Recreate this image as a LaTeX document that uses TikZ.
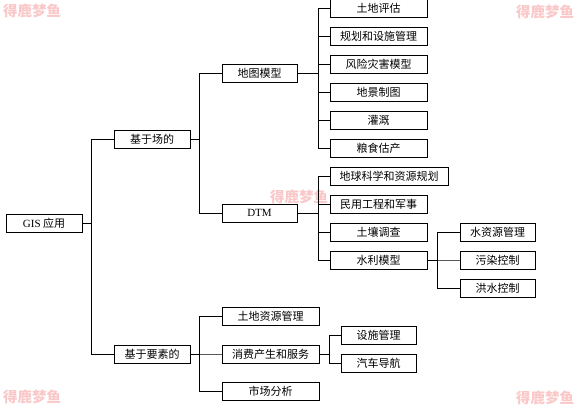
\documentclass[tikz,border=0pt]{standalone}
\usepackage{fontspec}
\setmainfont{Liberation Serif}
\newfontfamily\cjk{Noto Sans CJK SC}
\usetikzlibrary{positioning}
\definecolor{wmark}{RGB}{250,200,200}

\begin{document}
\begin{tikzpicture}[x=1pt,y=-1pt,
  box/.style={draw,line width=1pt,minimum height=18pt,inner sep=0pt,font=\cjk\fontsize{11}{12}\selectfont},
  wm/.style={text=wmark,font=\cjk\bfseries\fontsize{14.5}{16}\selectfont,inner sep=0pt}]
\useasboundingbox (0,0) rectangle (575,412);

% watermarks
\foreach \pos/\name in {(32,11)/wma, (545,12)/wmb, (299,197)/wmc, (32,397)/wmd, (545,398)/wme}
\node[wm] (\name) at \pos {得鹿梦鱼};

% boxes
\foreach \pos/\name/\w/\disp in {{(44,223)/gis/76/{\rmfamily GIS} 应用},
  {(152,139)/field/76/基于场的}, {(152,354)/feat/76/基于要素的},
  {(259.5,73)/map/75/地图模型}, {(259.5,213)/dtm/75/{\rmfamily DTM}},
  {(270.5,316)/landres/97/土地资源管理}, {(270.5,354)/consume/97/消费产生和服务}, {(270.5,391)/market/97/市场分析},
  {(378.5,8.5)/landval/97/土地评估}, {(378.5,36.5)/plan/97/规划和设施管理}, {(378.5,64.5)/risk/97/风险灾害模型},
  {(378.5,92.5)/scene/97/地景制图}, {(378.5,120.5)/irrig/97/灌溉}, {(378.5,148.5)/crop/97/粮食估产},
  {(389,176.5)/geo/118/地球科学和资源规划}, {(378.5,204.5)/civil/97/民用工程和军事},
  {(378.5,232)/soil/97/土壤调查}, {(378.5,260)/hydro/97/水利模型},
  {(497.5,232)/water/75/水资源管理}, {(497.5,260)/pollut/75/污染控制}, {(497.5,288)/flood/75/洪水控制},
  {(378.5,335)/facil/75/设施管理}, {(378.5,363)/nav/75/汽车导航}}
\node[box,minimum width=\w pt] (\name) at \pos {\disp};

% Connect parents with children
\foreach \source/\dest/\gap in {gis/field/22, gis/feat/22, field/map/22, field/dtm/22,
  feat/landres/22, feat/consume/22, feat/market/22,
  map/landval/11, map/plan/11, map/risk/11, map/scene/11, map/irrig/11, map/crop/11,
  dtm/geo/11, dtm/civil/11, dtm/soil/11, dtm/hydro/11,
  hydro/water/22, hydro/pollut/22, hydro/flood/22, consume/facil/11, consume/nav/11}
\draw[line width=1pt] (\dest.west) -- ++(-\gap,0) |- (\source.east);

\end{tikzpicture}
\end{document}
